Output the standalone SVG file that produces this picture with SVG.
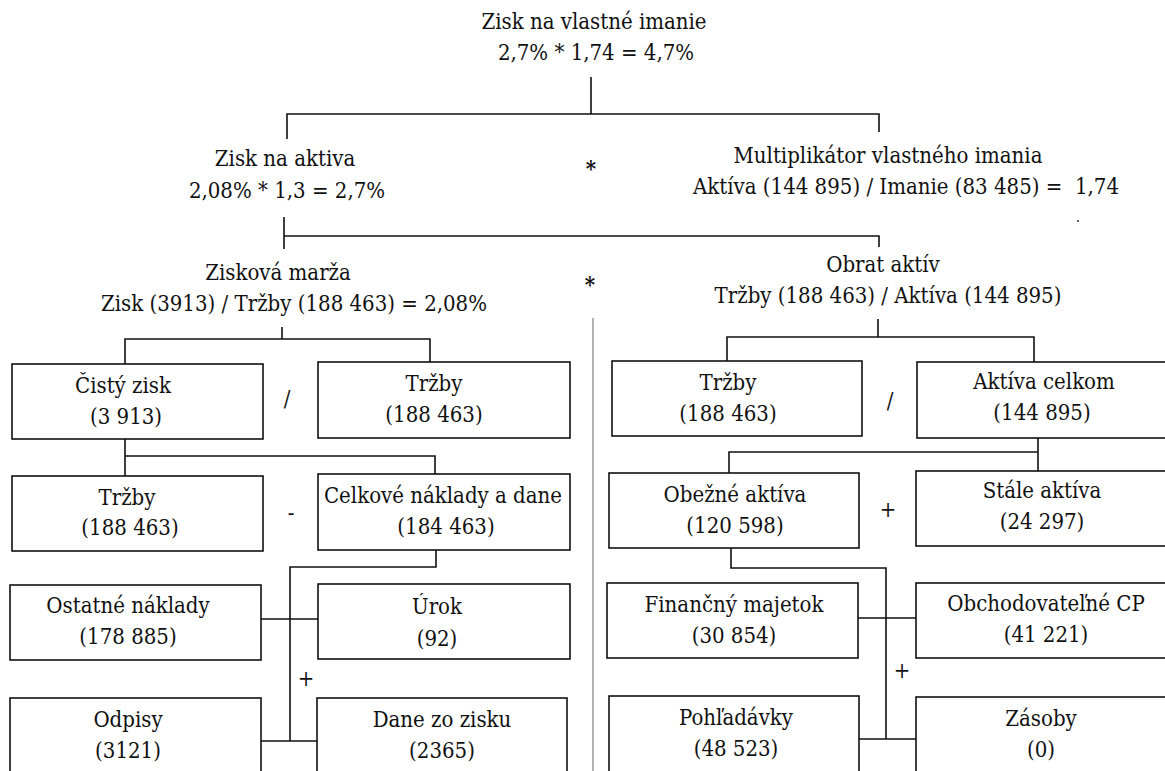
<svg xmlns="http://www.w3.org/2000/svg" width="1165" height="771" viewBox="0 0 1165 771">
<style>
text{font-family:"DejaVu Serif Condensed","DejaVu Serif",serif;font-size:22px;fill:#111;text-anchor:middle}
.box{fill:#fff;stroke:#111;stroke-width:1.6}
.ln{stroke:#111;stroke-width:1.6;fill:none}
.gray{stroke:#999;stroke-width:1.5}
.op{font-weight:bold}
.pre{white-space:pre}
</style>
<rect width="1165" height="771" fill="#fff"/>
<g id="connectors">
<path class="ln" d="M591,77V114M287,139V114H879V132"/>
<path class="ln" d="M284,217V249M284,236H879V247"/>
<path class="ln" d="M282,327V339M125,364V339H430V362"/>
<path class="ln" d="M878,319V337M727,361V337H1034V362"/>
<path class="gray" d="M593,318V771"/>
<path class="ln" d="M125,439V476M125,456H435V474"/>
<path class="ln" d="M436,550V567H290V741M261,619H318M261,741H317"/>
<path class="ln" d="M1038,438V471M729,473V452H1038"/>
<path class="ln" d="M731,548V568H886V739M858,618H916M859,739H918"/>
</g>
<g id="top">
<text x="594" y="29">Zisk na vlastné imanie</text>
<text x="596" y="60">2,7% * 1,74 = 4,7%</text>
</g>
<g id="zisk-na-aktiva">
<text x="285" y="166">Zisk na aktiva</text>
<text x="287" y="198">2,08% * 1,3 = 2,7%</text>
</g>
<g id="multiplikator">
<text x="888" y="163">Multiplikátor vlastného imania</text>
<text x="906" y="194" class="pre">Aktíva (144 895) / Imanie (83 485) =  1,74</text>
<circle cx="1078" cy="221" r="1" fill="#333"/>
</g>
<g id="ziskova-marza">
<text x="278" y="280">Zisková marža</text>
<text x="294" y="311">Zisk (3913) / Tržby (188 463) = 2,08%</text>
</g>
<g id="obrat-aktiv">
<text x="883" y="272">Obrat aktív</text>
<text x="888" y="303">Tržby (188 463) / Aktíva (144 895)</text>
</g>
<g id="operators">
<text x="591" y="176" class="op">*</text>
<text x="590" y="292" class="op">*</text>
<text x="287" y="406">/</text>
<text x="291" y="520">-</text>
<text x="306" y="686">+</text>
<text x="890" y="408">/</text>
<text x="888" y="517">+</text>
<text x="902" y="678">+</text>
</g>
<g id="cisty-zisk"><rect class="box" x="12" y="364" width="251" height="75"/><text x="123" y="393">Čistý zisk</text><text x="126" y="424">(3 913)</text></g>
<g id="trzby-l1"><rect class="box" x="318" y="362" width="252" height="76"/><text x="434" y="391">Tržby</text><text x="434" y="422">(188 463)</text></g>
<g id="trzby-l2"><rect class="box" x="12" y="476" width="251" height="75"/><text x="127" y="505">Tržby</text><text x="130" y="535">(188 463)</text></g>
<g id="celkove"><rect class="box" x="318" y="474" width="252" height="76"/><text x="443" y="503">Celkové náklady a dane</text><text x="446" y="534">(184 463)</text></g>
<g id="ostatne"><rect class="box" x="10" y="585" width="251" height="75"/><text x="128" y="613">Ostatné náklady</text><text x="128" y="644">(178 885)</text></g>
<g id="urok"><rect class="box" x="318" y="584" width="252" height="75"/><text x="437" y="614">Úrok</text><text x="437" y="646">(92)</text></g>
<g id="odpisy"><rect class="box" x="10" y="698" width="251" height="100"/><text x="128" y="727">Odpisy</text><text x="128" y="758">(3121)</text></g>
<g id="dane"><rect class="box" x="317" y="698" width="250" height="100"/><text x="442" y="727">Dane zo zisku</text><text x="442" y="758">(2365)</text></g>
<g id="trzby-r"><rect class="box" x="612" y="361" width="250" height="75"/><text x="728" y="390">Tržby</text><text x="728" y="421">(188 463)</text></g>
<g id="aktiva-celkom"><rect class="box" x="917" y="362" width="260" height="76"/><text x="1044" y="389">Aktíva celkom</text><text x="1042" y="420">(144 895)</text></g>
<g id="obezne"><rect class="box" x="609" y="473" width="250" height="75"/><text x="735" y="502">Obežné aktíva</text><text x="735" y="533">(120 598)</text></g>
<g id="stale"><rect class="box" x="916" y="471" width="260" height="75"/><text x="1042" y="498">Stále aktíva</text><text x="1042" y="529">(24 297)</text></g>
<g id="financny"><rect class="box" x="607" y="583" width="251" height="75"/><text x="734" y="612">Finančný majetok</text><text x="734" y="643">(30 854)</text></g>
<g id="obchodovatelne"><rect class="box" x="916" y="583" width="260" height="75"/><text x="1046" y="611">Obchodovateľné CP</text><text x="1046" y="642">(41 221)</text></g>
<g id="pohladavky"><rect class="box" x="609" y="696" width="250" height="100"/><text x="736" y="725">Pohľadávky</text><text x="736" y="756">(48 523)</text></g>
<g id="zasoby"><rect class="box" x="916" y="697" width="260" height="100"/><text x="1041" y="726">Zásoby</text><text x="1041" y="757">(0)</text></g>
</svg>
